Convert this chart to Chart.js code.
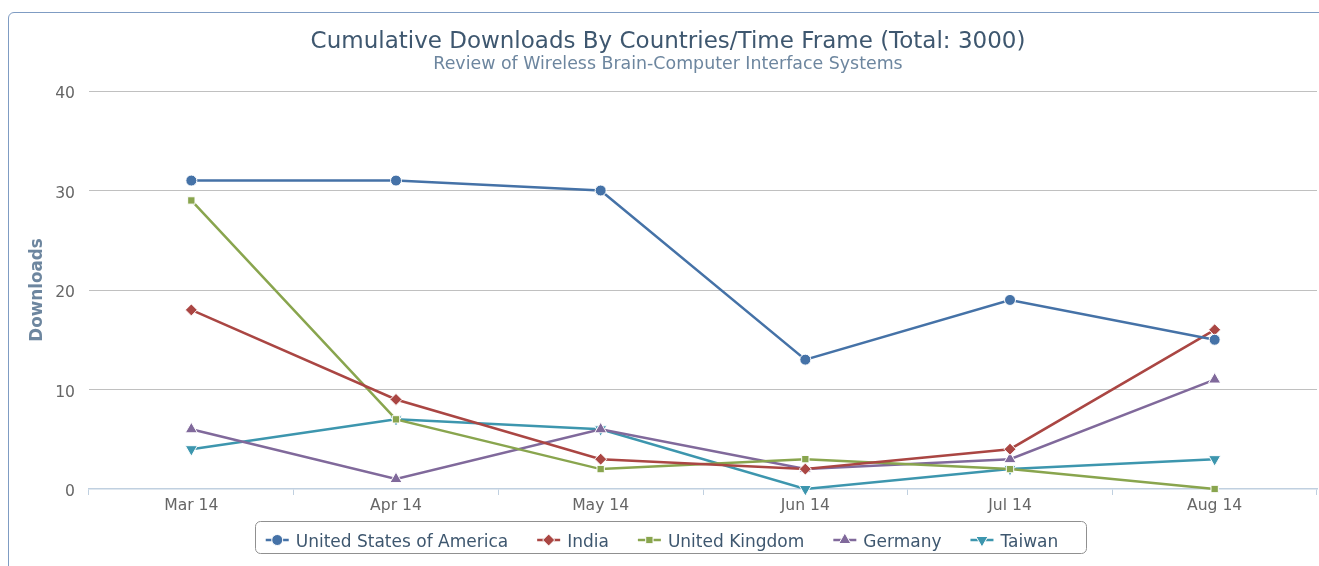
<!DOCTYPE html>
<html>
<head>
<meta charset="utf-8">
<script src="https://cdn.jsdelivr.net/npm/chart.js@4/dist/chart.umd.min.js"></script>
<style>
    html, body { margin: 0; padding: 0; background: #fff; overflow: hidden; width: 1319px; height: 566px; }
    #frame {
        position: absolute; left: 8px; top: 12px; width: 1340px; height: 600px;
        border: 1px solid #7f9cc3; border-radius: 6px; box-sizing: border-box;
    }
    #downloadsChart { position: absolute; left: 0; top: 0; }
</style>
</head>
<body>
<div id="frame"></div>
<canvas id="downloadsChart" width="1336" height="566"></canvas>
<script>
// data
const months = ['Mar 14', 'Apr 14', 'May 14', 'Jun 14', 'Jul 14', 'Aug 14'];
const usa = [31, 31, 30, 13, 19, 15];
const india = [18, 9, 3, 2, 4, 16];
const uk = [29, 7, 2, 3, 2, 0];
const germany = [6, 1, 6, 2, 3, 11];
const taiwan = [4, 7, 6, 0, 2, 3];
const yTicks = [0, 10, 20, 30, 40];

const chartTitle = 'Cumulative Downloads By Countries/Time Frame (Total: 3000)';
const chartSubtitle = 'Review of Wireless Brain-Computer Interface Systems';
const FONT = '"DejaVu Sans", Verdana, sans-serif';

function series(label, data, color, style, radius, rotation) {
    return {
        label: label,
        data: data,
        borderColor: color,
        backgroundColor: color,
        borderWidth: 2.5,
        tension: 0,
        fill: false,
        clip: false,
        pointStyle: style,
        pointRadius: radius,
        pointHoverRadius: radius,
        pointRotation: rotation || 0,
        pointBorderColor: '#ffffff',
        pointBorderWidth: 1,
        pointBackgroundColor: color,
    };
}

// titles, y axis title and the legend box
const decorations = {
    id: 'decorations',
    afterDraw(chart) {
        const ctx = chart.ctx;
        const area = chart.chartArea;
        ctx.save();
        ctx.textAlign = 'center';
        ctx.textBaseline = 'alphabetic';
        ctx.fillStyle = '#3E576F';
        ctx.font = '23px ' + FONT;
        ctx.fillText(chartTitle, 668, 48);
        ctx.fillStyle = '#6D869F';
        ctx.font = '17.4px ' + FONT;
        ctx.fillText(chartSubtitle, 668, 68.5);

        // y axis title
        ctx.save();
        ctx.translate(42, (area.top + area.bottom) / 2);
        ctx.rotate(-Math.PI / 2);
        ctx.font = 'bold 16.8px ' + FONT;
        ctx.fillStyle = '#6D869F';
        ctx.fillText('Downloads', 0, 0);
        ctx.restore();

        // legend
        const sets = chart.data.datasets;
        ctx.font = '17px ' + FONT;
        const symW = 23, gap = 7, dist = 29, padL = 11, padR = 27;
        const widths = sets.map(d => ctx.measureText(d.label).width);
        const total = widths.reduce((a, b) => a + b, 0) + sets.length * (symW + gap) + (sets.length - 1) * dist;
        const boxW = total + padL + padR;
        const boxX = 670 - boxW / 2, boxY = 521.5, boxH = 32;
        ctx.strokeStyle = '#909090';
        ctx.lineWidth = 1;
        ctx.beginPath();
        ctx.roundRect(Math.round(boxX) + 0.5, boxY, Math.round(boxW), boxH, 5);
        ctx.stroke();

        let x = boxX + padL;
        const cy = 540;
        ctx.textAlign = 'left';
        sets.forEach((d, i) => {
            ctx.strokeStyle = d.borderColor;
            ctx.lineWidth = 2.5;
            ctx.beginPath();
            ctx.moveTo(x, cy);
            ctx.lineTo(x + symW, cy);
            ctx.stroke();
            ctx.fillStyle = d.borderColor;
            ctx.strokeStyle = '#ffffff';
            ctx.lineWidth = 1;
            Chart.helpers.drawPoint(ctx, {
                pointStyle: d.pointStyle,
                rotation: d.pointRotation,
                radius: d.pointRadius,
                borderWidth: 1,
            }, x + symW / 2, cy);
            ctx.fillStyle = '#3E576F';
            ctx.fillText(d.label, x + symW + gap, 546.5);
            x += symW + gap + widths[i] + dist;
        });
        ctx.restore();
    }
};

const ctx = document.getElementById('downloadsChart').getContext('2d');
const downloadsChart = new Chart(ctx, {
    type: 'line',
    data: {
        labels: months,
        datasets: [
            series('United States of America', usa, '#4572A7', 'circle', 5.5),
            series('India', india, '#AA4643', 'rectRot', 6),
            series('United Kingdom', uk, '#89A54E', 'rect', 5.2),
            series('Germany', germany, '#80699B', 'triangle', 7),
            series('Taiwan', taiwan, '#3D96AE', 'triangle', 7, 180),
        ],
    },
    options: {
        responsive: false,
        animation: false,
        devicePixelRatio: 1,
        layout: { padding: { top: 91, right: 19, left: 0, bottom: 0 } },
        plugins: {
            legend: { display: false },
            title: { display: false },
            tooltip: { enabled: false },
        },
        scales: {
            x: {
                offset: true,
                afterFit: s => { s.height = 77; },
                grid: {
                    offset: true,
                    drawOnChartArea: false,
                    color: '#C0D0E0',
                    tickLength: 6,
                    lineWidth: 1,
                },
                border: { color: '#C0D0E0', width: 1.5 },
                ticks: {
                    color: '#666666',
                    font: { family: FONT, size: 15.6 },
                    padding: 2,
                    maxRotation: 0,
                },
            },
            y: {
                min: 0,
                max: 40,
                afterFit: s => { s.width = 89; },
                afterBuildTicks: s => { s.ticks = yTicks.map(v => ({ value: v })); },
                grid: {
                    drawTicks: false,
                    color: c => (c.tick && c.tick.value === 0 ? 'rgba(0,0,0,0)' : '#C0C0C0'),
                    lineWidth: 1,
                },
                border: { display: false },
                ticks: {
                    color: '#666666',
                    font: { family: FONT, size: 15.6 },
                    padding: 14,
                    labelOffset: 3,
                },
            },
        },
    },
    plugins: [decorations],
});
</script>
</body>
</html>
